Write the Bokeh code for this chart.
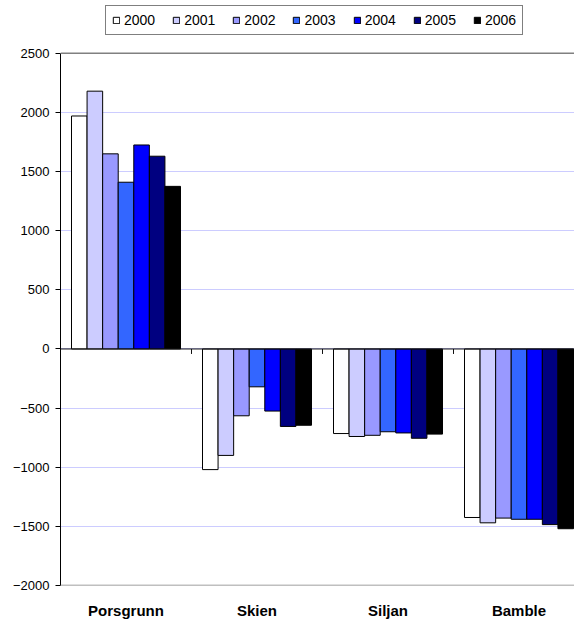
import numpy as np
from bokeh.plotting import figure
from bokeh.models import Range1d, FixedTicker, Span, Legend, LegendItem, ColumnDataSource
from bokeh.embed import file_html
from bokeh.resources import INLINE

categories = ["Porsgrunn", "Skien", "Siljan", "Bamble"]
years = ["2000", "2001", "2002", "2003", "2004", "2005", "2006"]
v2000 = [1970, -1020, -715, -1425]
v2001 = [2180, -900, -740, -1470]
v2002 = [1650, -565, -730, -1430]
v2003 = [1410, -320, -700, -1440]
v2004 = [1725, -525, -710, -1440]
v2005 = [1630, -655, -755, -1485]
v2006 = [1375, -645, -720, -1520]
series = [v2000, v2001, v2002, v2003, v2004, v2005, v2006]
colors = ["#FFFFFF", "#CCCCFF", "#9999FF", "#3366FF", "#0000FF", "#000080", "#000000"]
y_ticks = [-2000, -1500, -1000, -500, 0, 500, 1000, 1500, 2000, 2500]

FONT = "Liberation Sans"
W, H = 574, 621
ML, MR, MB = 60, 0, 34
PLOT_TOP = 53          # screen y of the 2500 line
LEGEND_BOTTOM = 37     # screen y of legend box bottom
LEGEND_LEFT = 105      # screen x of legend box left
frame_w = W - ML - MR
frame_h = H - MB       # frame spans from the top of the figure
data_h = frame_h - PLOT_TOP
cat_px = 131.0
group_px = 109.0

y0, y1 = y_ticks[0], y_ticks[-1]
units_per_px = (y1 - y0) / data_h
y_top = y1 + PLOT_TOP * units_per_px
x_end = frame_w / cat_px

p = figure(width=W, height=H, output_backend="svg", toolbar_location=None,
           x_range=Range1d(0, x_end), y_range=Range1d(y0, y_top),
           min_border_left=ML, min_border_right=MR, min_border_top=0, min_border_bottom=MB)
p.outline_line_color = None
p.background_fill_color = "white"
p.border_fill_color = "white"

# grid
p.xgrid.grid_line_color = None
p.ygrid.grid_line_color = "#CCCCFF"
p.ygrid.grid_line_width = 1
p.ygrid.ticker = FixedTicker(ticks=y_ticks)

# y axis
p.yaxis.ticker = FixedTicker(ticks=y_ticks)
p.yaxis.bounds = (y0, y1)
p.yaxis.axis_line_color = "#000000"
p.yaxis.major_tick_line_color = "#000000"
p.yaxis.major_tick_out = 5
p.yaxis.major_tick_in = 0
p.yaxis.minor_tick_line_color = None
p.yaxis.major_label_standoff = 6
p.yaxis.major_label_text_font = FONT
p.yaxis.major_label_text_font_size = "13px"
p.yaxis.major_label_text_color = "#000000"

# x axis (category labels at bottom)
centers = [i + 0.5 for i in range(len(categories))]
p.xaxis.ticker = FixedTicker(ticks=centers)
p.xaxis.major_label_overrides = {c: name for c, name in zip(centers, categories)}
p.xaxis.axis_line_color = None
p.xaxis.major_tick_line_color = None
p.xaxis.major_tick_out = 0
p.xaxis.major_tick_in = 0
p.xaxis.minor_tick_line_color = None
p.xaxis.major_label_standoff = 16
p.xaxis.major_label_text_font = FONT
p.xaxis.major_label_text_font_style = "bold"
p.xaxis.major_label_text_font_size = "15px"
p.xaxis.major_label_text_color = "#000000"

# plot-area top/bottom borders
p.add_layout(Span(location=y1, dimension="width", line_color="#808080", line_width=1.5))
p.add_layout(Span(location=y0, dimension="width", line_color="#808080", line_width=1.5))

# bars
bw = group_px / len(years) / cat_px
items = []
for i, (yr, vals, col) in enumerate(zip(years, series, colors)):
    xs = np.array(centers) + (i - (len(years) - 1) / 2) * bw
    src = ColumnDataSource(dict(x=xs, top=vals))
    r = p.vbar(x="x", top="top", bottom=0, width=bw, source=src,
               fill_color=col, line_color="#000000", line_width=1)
    items.append(LegendItem(label=yr, renderers=[r]))

# zero line (category axis) and boundary ticks
p.add_layout(Span(location=0, dimension="width", line_color="#111111", line_width=1))
tick_units = 5 * units_per_px
bounds = list(range(1, len(categories)))
p.segment(x0=bounds, x1=bounds, y0=[0] * len(bounds), y1=[-tick_units] * len(bounds),
          line_color="#111111", line_width=1)

legend = Legend(items=items, orientation="horizontal",
                location=(LEGEND_LEFT - ML, frame_h - LEGEND_BOTTOM))
legend.margin = 0
legend.padding = 6
legend.spacing = 17
legend.glyph_width = 8
legend.glyph_height = 8
legend.label_standoff = 4
legend.label_height = 11
legend.label_text_font = FONT
legend.label_text_font_size = "14px"
legend.label_text_color = "#000000"
legend.border_line_color = "#000000"
legend.border_line_width = 1
legend.background_fill_color = "white"
legend.background_fill_alpha = 1
p.add_layout(legend, "center")

open("out.html", "w").write(file_html(p, INLINE))
